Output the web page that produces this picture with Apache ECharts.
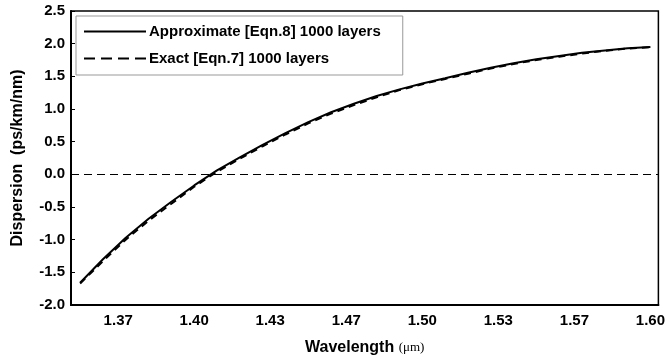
<!DOCTYPE html>
<html>
<head>
<meta charset="utf-8">
<script src="https://cdn.jsdelivr.net/npm/echarts@6/dist/echarts.min.js"></script>
<style>
  html, body { margin: 0; padding: 0; background: #fff; }
  #chart { width: 668px; height: 362px; }
</style>
</head>
<body>
<div id="chart"></div>
<script>
// wavelength in um
const wavelength = [1.35, 1.36, 1.37, 1.38, 1.39, 1.40, 1.41, 1.42, 1.43, 1.44, 1.45, 1.46, 1.47,
  1.48, 1.49, 1.50, 1.51, 1.52, 1.53, 1.54, 1.55, 1.56, 1.57, 1.58, 1.59, 1.60];
// dispersion ps/km/nm
const approxValues = [-1.66, -1.30, -0.97, -0.68, -0.42, -0.17, 0.06, 0.26, 0.45, 0.63, 0.80, 0.95, 1.08,
  1.20, 1.30, 1.39, 1.47, 1.555, 1.63, 1.70, 1.76, 1.81, 1.86, 1.895, 1.93, 1.95];
const exactValues = [-1.67, -1.33, -1.00, -0.71, -0.45, -0.19, 0.04, 0.24, 0.43, 0.61, 0.78, 0.93, 1.06,
  1.18, 1.29, 1.38, 1.46, 1.54, 1.62, 1.69, 1.75, 1.80, 1.85, 1.89, 1.925, 1.945];
const xTickValues = [1.3667, 1.4, 1.4333, 1.4667, 1.5, 1.5333, 1.5667, 1.6];

const font = '"Liberation Sans", Arial, sans-serif';

const chart = echarts.init(document.getElementById('chart'));

chart.setOption({
  animation: false,
  backgroundColor: '#fff',
  grid: {
    left: 71, right: 8, top: 11, bottom: 57,
    show: true, borderColor: '#000', borderWidth: 1.5
  },
  legend: {
    orient: 'vertical',
    left: 76, top: 16,
    padding: [8, 22, 9, 7],
    itemWidth: 62, itemHeight: 15, itemGap: 12,
    borderColor: '#999', borderWidth: 1,
    backgroundColor: '#fff',
    itemStyle: { opacity: 0 },
    textStyle: { fontFamily: font, fontWeight: 'bold', fontSize: 15, color: '#000', padding: [0, 0, 0, -2] },
    data: [
      { name: 'Approximate [Eqn.8] 1000 layers' },
      { name: 'Exact [Eqn.7] 1000 layers', lineStyle: { type: [11, 6] } }
    ]
  },
  xAxis: {
    type: 'value',
    min: 1.346, max: 1.6035,
    name: '{a|Wavelength }{b|(μm)}',
    nameLocation: 'middle',
    nameGap: 35,
    nameTextStyle: {
      rich: {
        a: { fontFamily: font, fontWeight: 'bold', fontSize: 16, color: '#000' },
        b: { fontFamily: '"Liberation Serif", serif', fontSize: 13, color: '#000' }
      }
    },
    axisLine: { onZero: false, lineStyle: { color: '#000', width: 2 } },
    axisTick: { show: false },
    splitLine: { show: false },
    axisLabel: {
      customValues: xTickValues,
      margin: 8,
      fontFamily: font, fontWeight: 'bold', fontSize: 15, color: '#000',
      formatter: v => v.toFixed(2)
    }
  },
  yAxis: {
    type: 'value',
    min: -2, max: 2.5, interval: 0.5,
    name: 'Dispersion  (ps/km/nm)',
    nameLocation: 'middle',
    nameGap: 45,
    nameTextStyle: { fontFamily: font, fontWeight: 'bold', fontSize: 16, color: '#000' },
    axisLine: { show: true, onZero: false, lineStyle: { color: '#000', width: 2 } },
    axisTick: { show: true, inside: true, length: 4, lineStyle: { color: '#000' } },
    splitLine: { show: false },
    axisLabel: {
      margin: 6,
      fontFamily: font, fontWeight: 'bold', fontSize: 15, color: '#000',
      formatter: v => v.toFixed(1)
    }
  },
  series: [
    {
      name: 'Approximate [Eqn.8] 1000 layers',
      type: 'line',
      symbol: 'none',
      lineStyle: { color: '#000', width: 2 },
      itemStyle: { color: '#000' },
      data: wavelength.map((w, i) => [w, approxValues[i]]),
      markLine: {
        silent: true,
        symbol: 'none',
        label: { show: false },
        lineStyle: { color: '#000', width: 1, type: [8, 5] },
        data: [{ yAxis: 0 }]
      },
      z: 3
    },
    {
      name: 'Exact [Eqn.7] 1000 layers',
      type: 'line',
      symbol: 'none',
      lineStyle: { color: '#000', width: 2, type: [7, 5] },
      itemStyle: { color: '#000' },
      data: wavelength.map((w, i) => [w, exactValues[i]]),
      z: 2
    }
  ]
});
</script>
</body>
</html>
